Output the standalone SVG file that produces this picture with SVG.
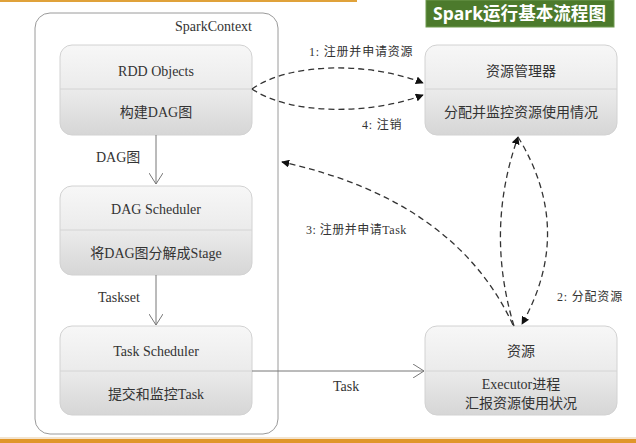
<svg xmlns="http://www.w3.org/2000/svg" width="636" height="443" viewBox="0 0 636 443">
<style>
.box{fill:url(#g);stroke:#d2d2d2;stroke-width:1}
.div{stroke:#d4d4d4;stroke-width:1}
.t{font-family:"Liberation Serif","Noto Sans CJK SC",serif;font-size:14px;fill:#333;text-anchor:middle}
.lb{font-family:"Liberation Serif","Noto Sans CJK SC",serif;font-size:12px;fill:#333}
.dash{fill:none;stroke:#333;stroke-width:1.3;stroke-dasharray:6,4}
.solid{fill:none;stroke:#777;stroke-width:1}
</style>
<defs>
<linearGradient id="g" x1="0" y1="0" x2="0" y2="1">
<stop offset="0" stop-color="#f7f7f7"/>
<stop offset="0.5" stop-color="#ebebeb"/>
<stop offset="1" stop-color="#d6d6d6"/>
</linearGradient>
<marker id="fa" viewBox="0 0 10 10" refX="9" refY="5" markerWidth="8" markerHeight="8" orient="auto" markerUnits="userSpaceOnUse">
<path d="M0,0 L10,5 L0,10 z" fill="#111"/>
</marker>
<marker id="oa" viewBox="0 0 12 14" refX="11" refY="7" markerWidth="12" markerHeight="14" orient="auto" markerUnits="userSpaceOnUse">
<path d="M0,0 L11,7 L0,14" fill="none" stroke="#777" stroke-width="1"/>
</marker>
</defs>
<rect x="0" y="0" width="636" height="443" fill="#fff"/>
<rect x="0" y="0" width="357" height="2" fill="#e0a23a"/>
<rect x="0" y="439" width="636" height="4" fill="#e0962a"/>
<rect x="0" y="437" width="636" height="2" fill="#f3e4cf"/>
<g id="title">
<rect x="426" y="0" width="188" height="27" fill="#4c7a2c" stroke="#6f9a4f" stroke-width="1"/>
<text x="433" y="20" font-family="'Noto Sans','Noto Sans CJK SC',sans-serif" font-size="18" font-weight="bold" fill="#fff" textLength="173" lengthAdjust="spacingAndGlyphs">Spark运行基本流程图</text>
</g>
<g id="sparkcontext">
<rect x="35" y="13" width="243" height="421" rx="15" fill="none" stroke="#9a9a9a" stroke-width="1"/>
<text x="252" y="31" class="t" style="text-anchor:end">SparkContext</text>
</g>
<g id="rdd">
<rect class="box" x="60" y="45" width="192" height="90" rx="12"/>
<line class="div" x1="60" y1="89" x2="252" y2="89"/>
<text class="t" x="156" y="76">RDD Objects</text>
<text class="t" x="156" y="117">构建DAG图</text>
</g>
<g id="dag">
<rect class="box" x="60" y="186" width="192" height="89" rx="12"/>
<line class="div" x1="60" y1="230" x2="252" y2="230"/>
<text class="t" x="156" y="214">DAG Scheduler</text>
<text class="t" x="156" y="258">将DAG图分解成Stage</text>
</g>
<g id="task">
<rect class="box" x="60" y="326" width="192" height="89" rx="12"/>
<line class="div" x1="60" y1="371" x2="252" y2="371"/>
<text class="t" x="156" y="356">Task Scheduler</text>
<text class="t" x="156" y="399">提交和监控Task</text>
</g>
<g id="rm">
<rect class="box" x="425" y="45" width="192" height="90" rx="12"/>
<line class="div" x1="425" y1="89" x2="617" y2="89"/>
<text class="t" x="521" y="76">资源管理器</text>
<text class="t" x="521" y="117">分配并监控资源使用情况</text>
</g>
<g id="res">
<rect class="box" x="425" y="326" width="192" height="89" rx="12"/>
<line class="div" x1="425" y1="371" x2="617" y2="371"/>
<text class="t" x="521" y="356">资源</text>
<text class="t" x="521" y="389">Executor进程</text>
<text class="t" x="521" y="408">汇报资源使用状况</text>
</g>
<g id="connectors">
<path class="solid" d="M156,135 L156,184" marker-end="url(#oa)"/>
<path class="solid" d="M156,275 L156,325" marker-end="url(#oa)"/>
<path class="solid" d="M252,371 L424,371" marker-end="url(#oa)"/>
<path class="dash" d="M252,89 C290,62 370,62 423,83" marker-end="url(#fa)"/>
<path class="dash" d="M252,89 C290,115 370,115 423,95" marker-end="url(#fa)"/>
<path class="dash" d="M513,325 Q455,200 282,162" marker-end="url(#fa)"/>
<path class="dash" d="M514,326 Q485,230 518,137" marker-end="url(#fa)"/>
<path class="dash" d="M518,137 Q575,230 522,324" marker-end="url(#fa)"/>
</g>
<g id="labels">
<text class="t" x="96" y="162" style="text-anchor:start">DAG图</text>
<text class="t" x="98" y="302" style="text-anchor:start">Taskset</text>
<text class="t" x="333" y="391" style="text-anchor:start">Task</text>
<text class="lb" x="309" y="56" letter-spacing="0.8">1: 注册并申请资源</text>
<text class="lb" x="362" y="129" letter-spacing="0.8">4: 注销</text>
<text class="lb" x="306" y="234" letter-spacing="0.5">3: 注册并申请Task</text>
<text class="lb" x="557" y="301" letter-spacing="0.8">2: 分配资源</text>
</g>
</svg>
